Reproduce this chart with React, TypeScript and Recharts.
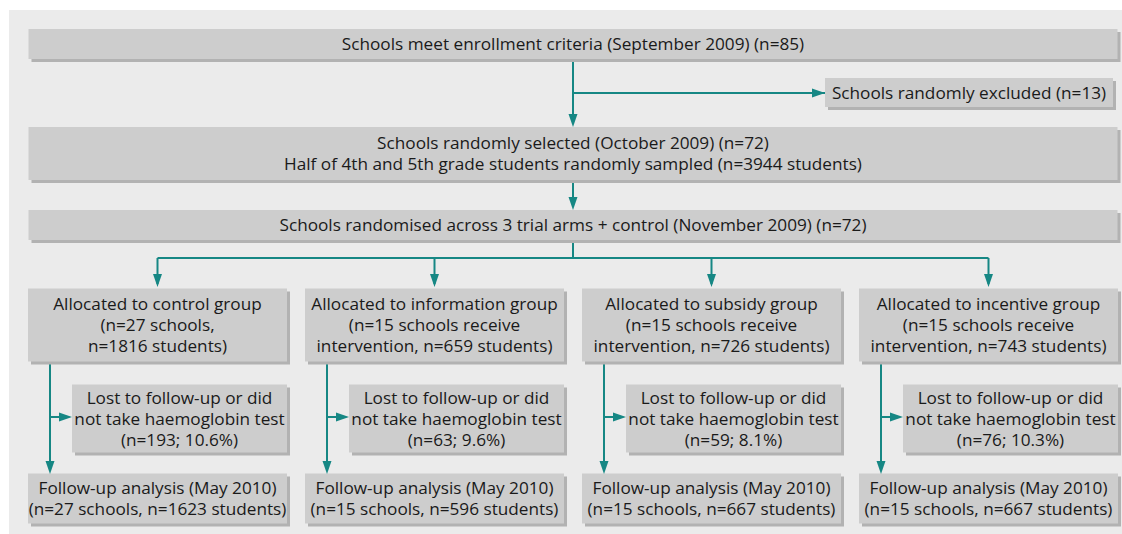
import { ScatterChart, Scatter, XAxis, YAxis, ReferenceLine } from "recharts";

// study numbers
const groupNames = ["control", "information", "subsidy", "incentive"];
const allocSchools = [27, 15, 15, 15];
const allocStudents = [1816, 659, 726, 743];
const lostCounts = [193, 63, 59, 76];
const lostPct = [10.6, 9.6, 8.1, 10.3];
const followSchools = [27, 15, 15, 15];
const followStudents = [1623, 596, 667, 667];
const enrolledSchools = 85;
const excludedSchools = 13;
const selectedSchools = 72;
const sampledStudents = 3944;
const randomisedSchools = 72;
const trialArms = 3;

const TEAL = "#168784";
const BOX = "#cdcdcd";
const SHADOW = "#b2b2b2";
const FONT = "'Open Sans', sans-serif";
const LINE_H = 21;

// x axis in column units (one column per trial arm), y axis in page rows
const COL = 277;
const stemDx = -107.5 / COL;
const lostDx = 22 / COL;
const lostLeftDx = -85.5 / COL;
const exclCenter = (969 - 19) / COL - 0.5;
const exclLeft = (825 - 19) / COL - 0.5;

type Box = { x: number; y: number; w: number; h: number; lines: string[] };

const boxes: Box[] = [
  { x: 1.5, y: 44, w: 1089, h: 30, lines: [`Schools meet enrollment criteria (September 2009) (n=${enrolledSchools})`] },
  { x: exclCenter, y: 92.5, w: 288, h: 29, lines: [`Schools randomly excluded (n=${excludedSchools})`] },
  {
    x: 1.5, y: 153.5, w: 1089, h: 53,
    lines: [
      `Schools randomly selected (October 2009) (n=${selectedSchools})`,
      `Half of 4th and 5th grade students randomly sampled (n=${sampledStudents} students)`,
    ],
  },
  { x: 1.5, y: 225, w: 1089, h: 30, lines: [`Schools randomised across ${trialArms} trial arms + control (November 2009) (n=${randomisedSchools})`] },
  ...groupNames.map((g, i) => ({
    x: i, y: 325, w: 259, h: 73,
    lines: i === 0
      ? [`Allocated to ${g} group`, `(n=${allocSchools[i]} schools,`, `n=${allocStudents[i]} students)`]
      : [`Allocated to ${g} group`, `(n=${allocSchools[i]} schools receive`, `intervention, n=${allocStudents[i]} students)`],
  })),
  ...groupNames.map((_, i) => ({
    x: i + lostDx, y: 418.5, w: 215, h: 68,
    lines: ["Lost to follow-up or did", "not take haemoglobin test", `(n=${lostCounts[i]}; ${lostPct[i].toFixed(1)}%)`],
  })),
  ...groupNames.map((_, i) => ({
    x: i, y: 498.5, w: 259, h: 50,
    lines: ["Follow-up analysis (May 2010)", `(n=${followSchools[i]} schools, n=${followStudents[i]} students)`],
  })),
];

type Link = { x1: number; y1: number; x2: number; y2: number };
const links: Link[] = [
  { x1: 1.5, y1: 59, x2: 1.5, y2: 124 },
  { x1: 1.5, y1: 93, x2: exclLeft, y2: 93 },
  { x1: 1.5, y1: 180, x2: 1.5, y2: 207 },
  { x1: 1.5, y1: 240, x2: 1.5, y2: 258 },
  { x1: 0, y1: 258, x2: 3, y2: 258 },
  ...groupNames.flatMap((_, i) => [
    { x1: i, y1: 258, x2: i, y2: 284 },
    { x1: i + stemDx, y1: 360, x2: i + stemDx, y2: 471 },
    { x1: i + stemDx, y1: 417, x2: i + lostLeftDx - 0.01, y2: 417 },
  ]),
];

const heads = [
  { x: 1.5, y: 127, dir: "down" },
  { x: exclLeft, y: 93, dir: "right" },
  { x: 1.5, y: 210, dir: "down" },
  ...groupNames.flatMap((_, i) => [
    { x: i, y: 287, dir: "down" },
    { x: i + stemDx, y: 474, dir: "down" },
    { x: i + lostLeftDx, y: 417, dir: "right" },
  ]),
];

const renderBox = (props: any) => {
  const { cx, cy, payload } = props;
  const b = payload as Box;
  const left = cx - b.w / 2;
  const top = cy - b.h / 2;
  const first = cy - ((b.lines.length - 1) * LINE_H) / 2;
  return (
    <g>
      <rect x={left + 3} y={top + 3} width={b.w} height={b.h} fill={SHADOW} />
      <rect x={left} y={top} width={b.w} height={b.h} fill={BOX} />
      {b.lines.map((t, k) => (
        <text
          key={k}
          x={cx}
          y={first + k * LINE_H}
          dy="0.36em"
          textAnchor="middle"
          fontFamily={FONT}
          fontSize={17.2}
          fill="#1a1a1a"
        >
          {t}
        </text>
      ))}
    </g>
  );
};

const renderHead = (props: any) => {
  const { cx, cy, payload } = props;
  const pts =
    payload.dir === "down"
      ? `${cx - 4.5},${cy - 13} ${cx + 4.5},${cy - 13} ${cx},${cy}`
      : `${cx - 13},${cy - 4.5} ${cx - 13},${cy + 4.5} ${cx},${cy}`;
  return <polygon points={pts} fill={TEAL} />;
};

export default function App() {
  return (
    <div style={{ position: "absolute", left: 0, top: 0, width: 1122, height: 534, overflow: "hidden", background: "#fff" }}>
      <div style={{ position: "absolute", left: 9, top: 10, right: 0, bottom: 0, background: "#ebebeb" }} />
      <div style={{ position: "absolute", left: 0, top: 0 }}>
        <ScatterChart width={1127} height={534} margin={{ top: 0, right: 0, bottom: 0, left: 19 }}>
          <XAxis type="number" dataKey="x" domain={[-0.5, 3.5]} allowDataOverflow hide />
          <YAxis type="number" dataKey="y" domain={[0, 534]} reversed allowDataOverflow hide />
          {links.map((l, i) => (
            <ReferenceLine
              key={i}
              segment={[{ x: l.x1, y: l.y1 }, { x: l.x2, y: l.y2 }]}
              stroke={TEAL}
              strokeWidth={2}
              ifOverflow="visible"
            />
          ))}
          <Scatter data={boxes} shape={renderBox} isAnimationActive={false} />
          <Scatter data={heads} shape={renderHead} isAnimationActive={false} />
        </ScatterChart>
      </div>
    </div>
  );
}
